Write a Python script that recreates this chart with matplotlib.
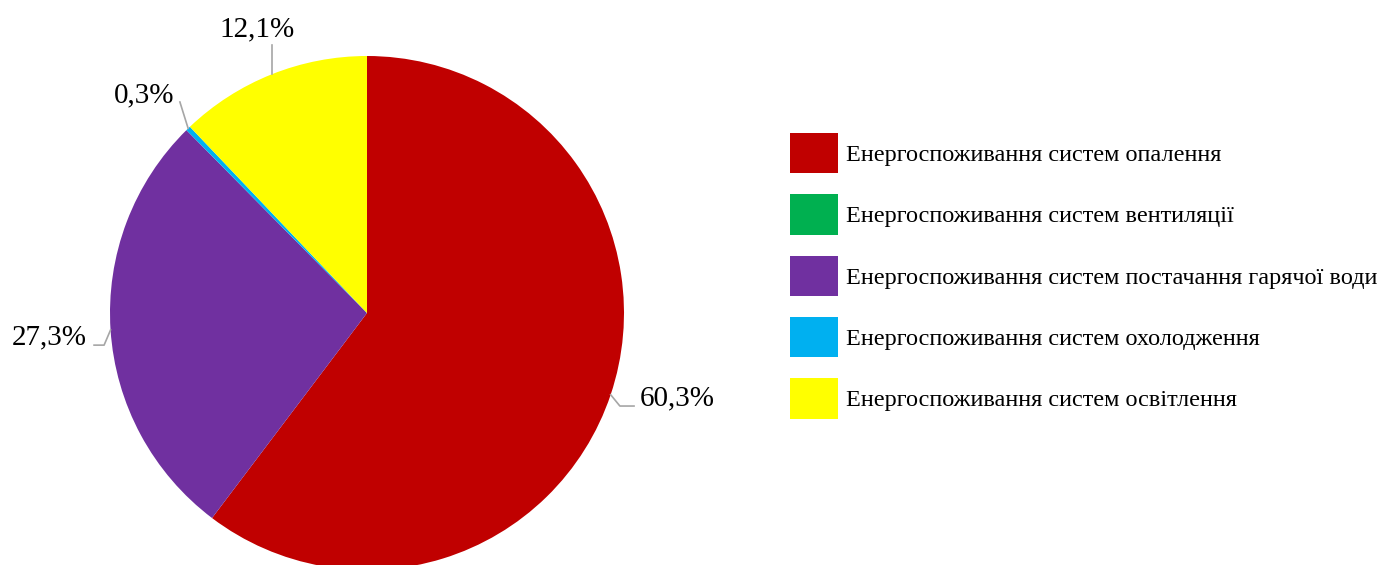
import numpy as np
import matplotlib
matplotlib.use('Agg')
import matplotlib.pyplot as plt

categories = ['Енергоспоживання систем опалення',
              'Енергоспоживання систем вентиляції',
              'Енергоспоживання систем постачання гарячої води',
              'Енергоспоживання систем охолодження',
              'Енергоспоживання систем освітлення']
values = [60.3, 0.0, 27.3, 0.3, 12.1]
colors = ['#C00000', '#00B050', '#7030A0', '#00B0F0', '#FFFF00']

plt.rcParams['font.family'] = ['Liberation Serif', 'DejaVu Serif']

W, H = 1378, 565
fig = plt.figure(figsize=(W / 100, H / 100), dpi=100)
cx, cy, r = 367, 313, 257
ax = fig.add_axes([(cx - r) / W, (H - cy - r) / H, 2 * r / W, 2 * r / H])
wedges, _ = ax.pie(values, colors=colors, startangle=90, counterclock=False,
                   radius=1, wedgeprops=dict(linewidth=0))
ax.set_xlim(-1, 1)
ax.set_ylim(-1, 1)
ax.set_aspect('auto')
ax.axis('off')
for w in wedges:
    w.set_clip_on(False)

# leader line points after the wedge edge, then text position / alignment
label_pos = {
    0: ([(0.984, -0.362), (1.039, -0.362)], (1.062, -0.331), 'left'),
    2: ([(-1.023, -0.125), (-1.062, -0.125)], (-1.089, -0.093), 'right'),
    3: ([(-0.728, 0.821)], (-0.748, 0.845), 'right'),
    4: ([(None, 1.043)], (-0.428, 1.105), 'center'),
}
for i, (pts, txt_xy, ha) in label_pos.items():
    w = wedges[i]
    ang = np.deg2rad((w.theta1 + w.theta2) / 2)
    ex, ey = np.cos(ang), np.sin(ang)
    xs = [ex] + [ex if p[0] is None else p[0] for p in pts]
    ys = [ey] + [p[1] for p in pts]
    ax.plot(xs, ys, color='#A6A6A6', lw=1.2, clip_on=False)
    lbl = f'{values[i]:.1f}%'.replace('.', ',')
    ax.text(txt_xy[0], txt_xy[1], lbl, ha=ha, va='center', fontsize=21)

fs = 17.45
px = fs * 100 / 72
leg = fig.legend(wedges, categories, loc='upper left',
                 bbox_to_anchor=(790 / W, (H - 133) / H),
                 frameon=False, fontsize=fs, borderpad=0, borderaxespad=0,
                 handlelength=48 / px, handleheight=2.186,
                 handletextpad=8 / px, labelspacing=21 / px)

fig.savefig('out.png', dpi=100)
